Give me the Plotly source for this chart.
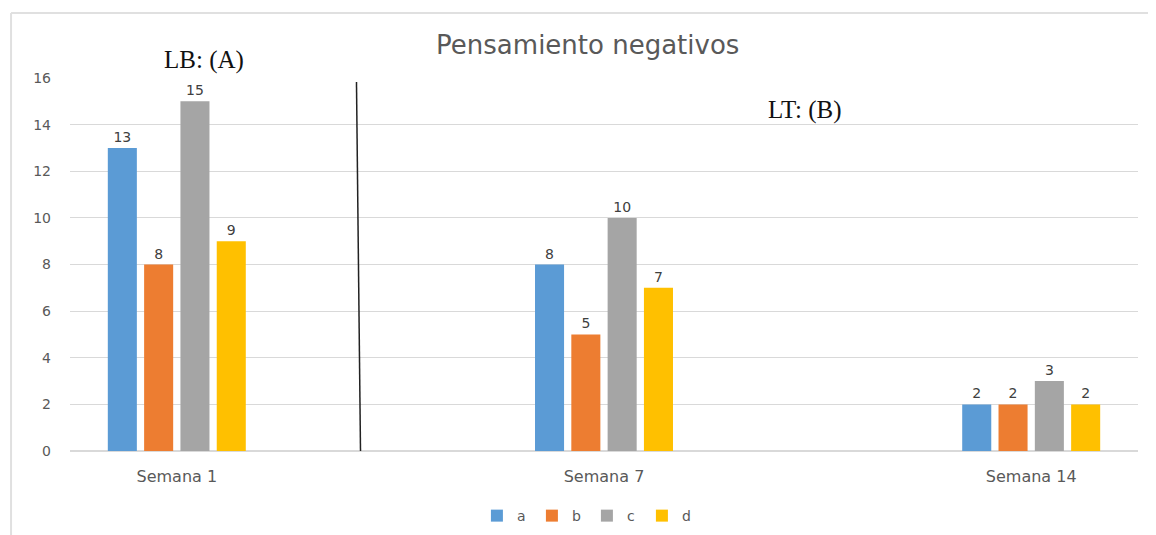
import plotly.graph_objects as go

# Data
semanas = ['Semana 1', 'Semana 7', 'Semana 14']
serie_a = [13, 8, 2]
serie_b = [8, 5, 2]
serie_c = [15, 10, 3]
serie_d = [9, 7, 2]
y_ticks = [0, 2, 4, 6, 8, 10, 12, 14, 16]

series = {'a': serie_a, 'b': serie_b, 'c': serie_c, 'd': serie_d}
colors = {'a': '#5B9BD5', 'b': '#ED7D31', 'c': '#A5A5A5', 'd': '#FFC000'}

fig = go.Figure()
for name, vals in series.items():
    fig.add_trace(go.Bar(
        name=name, x=semanas, y=vals,
        marker=dict(color=colors[name], line_width=0),
        text=vals, textposition='outside', cliponaxis=False,
        textfont=dict(size=14, color='#404040', family='DejaVu Sans'),
    ))

# page body has an 8px margin, so the figure is a bit smaller than the window
fig.update_layout(
    width=1148, height=527,
    barmode='group', bargap=0.66, bargroupgap=0.2,
    margin=dict(t=70, b=84, l=62, r=18),
    paper_bgcolor='white', plot_bgcolor='white',
    title=dict(text='Pensamiento negativos', x=0.505, xanchor='center', y=0.93, yanchor='middle',
               font=dict(family='DejaVu Sans', size=26, color='#595959')),
    xaxis=dict(range=[-0.25, 2.25], showgrid=False, showline=False, ticks='',
               ticklabelstandoff=14,
               tickfont=dict(family='DejaVu Sans', size=16, color='#595959')),
    yaxis=dict(range=[0, 16], tickvals=y_ticks, showgrid=True, gridcolor='#D9D9D9', gridwidth=1,
               zeroline=True, zerolinecolor='#D9D9D9', showline=False, ticks='',
               ticklabelstandoff=18,
               tickfont=dict(family='DejaVu Sans', size=14, color='#595959')),
    legend=dict(orientation='h', x=0.484, xanchor='center', yref='container', y=0.036, yanchor='middle',
                font=dict(family='DejaVu Sans', size=14, color='#595959'),
                itemwidth=30, entrywidth=10, entrywidthmode='pixels', traceorder='normal'),
    font=dict(family='DejaVu Sans'),
)

# Separator line between LB and LT
fig.add_shape(type='line', xref='x', yref='y', x0=0.4206, y0=15.83, x1=0.43, y1=0.0,
              line=dict(color='#222222', width=1.5))

# Outer frame (top and left edges)
fig.add_shape(type='line', xref='paper', yref='paper', x0=-0.0552, x1=1.02, y0=1.174, y1=1.174,
              line=dict(color='#E0E0E0', width=2))
fig.add_shape(type='line', xref='paper', yref='paper', x0=-0.0552, x1=-0.0552, y0=1.174, y1=-0.23,
              line=dict(color='#E0E0E0', width=2))

fig.add_annotation(text='LB: (A)', xref='x', yref='paper', x=0.063, y=1.048, showarrow=False,
                   xanchor='center', yanchor='middle',
                   font=dict(family='Liberation Serif', size=25, color='#111111'))
fig.add_annotation(text='LT: (B)', xref='x', yref='y', x=1.47, y=14.63, showarrow=False,
                   xanchor='center', yanchor='middle',
                   font=dict(family='Liberation Serif', size=25, color='#111111'))

fig.write_html('out.html')
